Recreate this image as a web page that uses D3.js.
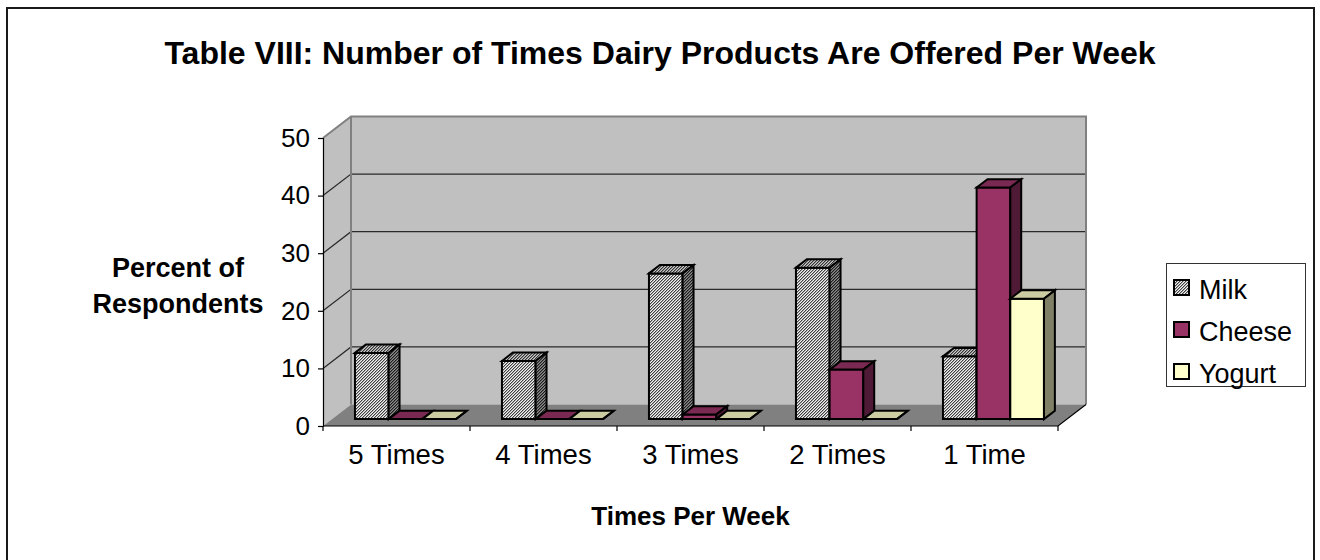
<!DOCTYPE html>
<html>
<head>
<meta charset="utf-8">
<script src="https://cdn.jsdelivr.net/npm/d3@7"></script>
<style>
  html, body { margin: 0; padding: 0; background: #fff; }
  svg { display: block; font-family: "Liberation Sans", Arial, sans-serif; }
</style>
</head>
<body>
<svg id="chart" width="1320" height="560"></svg>
<script>
// Survey results: share of respondents by how often each dairy product is served
const categories = ["5 Times", "4 Times", "3 Times", "2 Times", "1 Time"];
const seriesNames = ["Milk", "Cheese", "Yogurt"];
const milk   = [11.5, 10.1, 25.3, 26.3, 10.9];
const cheese = [0, 0, 0.8, 8.6, 40.2];
const yogurt = [0, 0, 0, 0, 20.9];
const yTicks = [0, 10, 20, 30, 40, 50];

const seriesValues = [milk, cheese, yogurt];

const svg = d3.select("#chart");

// Oblique 3D projection: depth z in [0,1] shifts points right and up
const DX = 28, DY = 21.5;
const X0 = 323, X1 = 1058;
const y = d3.scaleLinear().domain([0, 50]).range([426, 138]);
const x = d3.scaleBand().domain(categories).range([X0, X1])
  .paddingInner(46 / 147).paddingOuter(23 / 147);
const inner = d3.scaleBand().domain(seriesNames).range([0, x.bandwidth()]);
const P = (px, v, z) => [px + z * DX, y(v) - z * DY];
const ZF = 0.32, ZB = 0.71;

// Fill styles: fine hatched milk, plum cheese, cream yogurt (front / top / side)
const defs = svg.append("defs");
function hatch(id, light, mid, dark) {
  const p = defs.append("pattern").attr("id", id)
    .attr("patternUnits", "userSpaceOnUse").attr("width", 3).attr("height", 3);
  p.append("rect").attr("width", 3).attr("height", 3).attr("fill", light)
    .attr("shape-rendering", "crispEdges");
  [[2,0],[1,1],[0,2]].forEach(([cx, cy]) => p.append("rect").attr("x", cx).attr("y", cy)
    .attr("width", 1).attr("height", 1).attr("fill", dark)
    .attr("shape-rendering", "crispEdges"));
  [[0,0],[2,1],[1,2]].forEach(([cx, cy]) => p.append("rect").attr("x", cx).attr("y", cy)
    .attr("width", 1).attr("height", 1).attr("fill", mid)
    .attr("shape-rendering", "crispEdges"));
}
hatch("milkFront", "#f2f2f2", "#a8a8a8", "#404040");
hatch("milkTop", "#c8c8c8", "#888888", "#343434");
hatch("milkSide", "#8c8c8c", "#5c5c5c", "#1c1c1c");

const faces = {
  Milk:   { front: "url(#milkFront)", top: "url(#milkTop)", side: "url(#milkSide)" },
  Cheese: { front: "#993366", top: "#7a2952", side: "#4f1a35" },
  Yogurt: { front: "#ffffcc", top: "#cccca3", side: "#808066" }
};

// Outer chart frame
svg.append("rect").attr("x", 7).attr("y", 8).attr("width", 1307).attr("height", 620)
  .attr("fill", "none").attr("stroke", "#1a1a1a").attr("stroke-width", 2);

// Title
svg.append("text").attr("x", 660).attr("y", 64).attr("text-anchor", "middle")
  .attr("font-size", 32).attr("font-weight", "bold")
  .text("Table VIII: Number of Times Dairy Products Are Offered Per Week");

// Walls and floor
const poly = pts => pts.map(p => p.join(",")).join(" ");
const walls = svg.append("g");
walls.append("polygon")
  .attr("points", poly([P(X0, 50, 0), P(X0, 50, 1), P(X0, 0, 1), P(X0, 0, 0)]))
  .attr("fill", "#c0c0c0");
walls.append("polygon")
  .attr("points", poly([P(X0, 50, 1), P(X1, 50, 1), P(X1, 0, 1), P(X0, 0, 1)]))
  .attr("fill", "#c0c0c0");
walls.append("polygon")
  .attr("points", poly([P(X0, 0, 0), P(X0, 0, 1), P(X1, 0, 1), P(X1, 0, 0)]))
  .attr("fill", "#808080");

// Gridlines across the side and back walls
yTicks.filter(v => v > 0 && v < 50).forEach(v => {
  walls.append("polyline")
    .attr("points", poly([P(X0, v, 0), P(X0, v, 1), P(X1, v, 1)]))
    .attr("fill", "none").attr("stroke", "#2a2a2a").attr("stroke-width", 1.2);
});

// Wall edges
walls.append("polyline")
  .attr("points", poly([P(X0, 50, 0), P(X0, 50, 1), P(X1, 50, 1), P(X1, 0, 1)]))
  .attr("fill", "none").attr("stroke", "#808080").attr("stroke-width", 2);
walls.append("line")
  .attr("x1", P(X0, 50, 1)[0]).attr("y1", P(X0, 50, 1)[1])
  .attr("x2", P(X0, 0, 1)[0]).attr("y2", P(X0, 0, 1)[1])
  .attr("stroke", "#808080").attr("stroke-width", 2);

// Floor front edge and right edge
svg.append("polyline")
  .attr("points", poly([P(X0, 0, 0), P(X1, 0, 0), P(X1, 0, 1)]))
  .attr("fill", "none").attr("stroke", "#000").attr("stroke-width", 1.2);

// Y axis
const yAxis = svg.append("g").attr("transform", `translate(${X0},0)`)
  .call(d3.axisLeft(y).tickValues(yTicks).tickSize(5).tickPadding(8));
yAxis.select(".domain").attr("stroke", "#000").attr("stroke-width", 1.2);
yAxis.selectAll(".tick line").attr("stroke", "#000").attr("stroke-width", 1.2);
yAxis.selectAll(".tick text").attr("font-size", 26).attr("fill", "#000")
  .attr("font-family", "Liberation Sans, Arial, sans-serif");

// X axis: category labels at band centres, ticks at category boundaries
const xAxis = svg.append("g").attr("transform", `translate(0,${y(0)})`)
  .call(d3.axisBottom(x).tickSize(0).tickPadding(18));
xAxis.select(".domain").remove();
xAxis.selectAll(".tick text").attr("font-size", 27.5).attr("fill", "#000")
  .attr("font-family", "Liberation Sans, Arial, sans-serif");
d3.range(categories.length + 1).forEach(i => {
  const bx = X0 + i * x.step();
  svg.append("line").attr("x1", bx).attr("x2", bx)
    .attr("y1", y(0)).attr("y2", y(0) + 5)
    .attr("stroke", "#000").attr("stroke-width", 1.2);
});

// Axis titles
const yTitle = svg.append("text").attr("text-anchor", "middle")
  .attr("font-size", 27).attr("font-weight", "bold");
yTitle.append("tspan").attr("x", 178).attr("y", 277).text("Percent of");
yTitle.append("tspan").attr("x", 178).attr("y", 312.5).text("Respondents");
svg.append("text").attr("x", (X0 + X1) / 2).attr("y", 525).attr("text-anchor", "middle")
  .attr("font-size", 26).attr("font-weight", "bold").text("Times Per Week");

// 3D columns, drawn left to right so each bar hides its neighbour's side
const bars = svg.append("g").attr("stroke", "#000").attr("stroke-width", 2)
  .attr("stroke-linejoin", "miter");
categories.forEach((cat, i) => {
  seriesNames.forEach((name, j) => {
    const v = seriesValues[j][i];
    const xa = x(cat) + inner(name), xb = xa + inner.bandwidth();
    const f = faces[name];
    bars.append("polygon")
      .attr("points", poly([P(xa, v, ZF), P(xb, v, ZF), P(xb, 0, ZF), P(xa, 0, ZF)]))
      .attr("fill", f.front);
    bars.append("polygon")
      .attr("points", poly([P(xa, v, ZF), P(xa, v, ZB), P(xb, v, ZB), P(xb, v, ZF)]))
      .attr("fill", f.top);
    bars.append("polygon")
      .attr("points", poly([P(xb, 0, ZF), P(xb, v, ZF), P(xb, v, ZB), P(xb, 0, ZB)]))
      .attr("fill", f.side);
  });
});

// Legend
const legend = svg.append("g");
legend.append("rect").attr("x", 1166.5).attr("y", 263.5).attr("width", 139).attr("height", 123)
  .attr("fill", "#fff").attr("stroke", "#333").attr("stroke-width", 1);
seriesNames.forEach((name, j) => {
  const top = 280 + j * 42;
  legend.append("rect").attr("x", 1174).attr("y", top).attr("width", 15).attr("height", 15)
    .attr("fill", faces[name].front).attr("stroke", "#000").attr("stroke-width", 2);
  legend.append("text").attr("x", 1199).attr("y", top + 19)
    .attr("font-size", 27).text(name);
});
</script>
</body>
</html>
